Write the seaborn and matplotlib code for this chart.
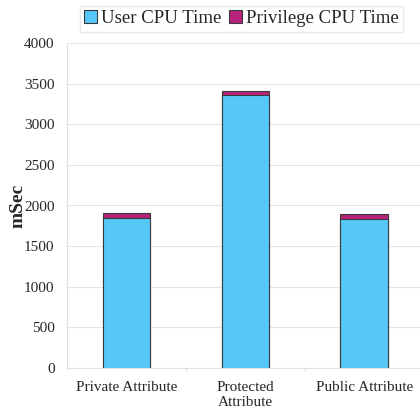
import seaborn as sns
import matplotlib.pyplot as plt
import matplotlib.patches as mpatches
import pandas as pd

categories = ['Private Attribute', 'Protected\nAttribute', 'Public Attribute']
user_cpu = [1840, 3360, 1835]
priv_cpu = [62, 52, 55]
series = ['User CPU Time', 'Privilege CPU Time']

sns.set_style('white')
plt.rcParams['font.family'] = ['Liberation Serif', 'DejaVu Serif']

d = pd.DataFrame({'cat': categories, 'user': user_cpu, 'priv': priv_cpu})
d['total'] = d['user'] + d['priv']

user_col = '#55c8f8'
priv_col = '#b5247a'

fig = plt.figure(figsize=(4.2, 4.19), dpi=100)
ax = fig.add_axes([67/420, 1-368/419, 1-67/420, (368-43)/419])

sns.barplot(data=d, x='cat', y='total', color=priv_col, width=0.4,
            edgecolor='#3a3a3a', linewidth=0.8, saturation=1, ax=ax)
sns.barplot(data=d, x='cat', y='user', color=user_col, width=0.4,
            edgecolor='#3a3a3a', linewidth=0.8, saturation=1, ax=ax)

ax.set_xlim(-0.5, 2.47)
ax.set_ylim(0, 4000)
ax.set_yticks(range(0, 4001, 500))
ax.yaxis.grid(True, color='#e4e4e4', linewidth=0.8)
ax.set_axisbelow(True)
for s in ['top', 'right']:
    ax.spines[s].set_visible(False)
ax.spines['left'].set_color('#e0e0e0')
ax.spines['bottom'].set_color('#e0e0e0')
ax.tick_params(axis='y', labelsize=11, length=0, pad=9)
ax.tick_params(axis='x', labelsize=11, length=0, pad=9)
ax.set_xlabel('')
ax.set_ylabel('mSec', fontsize=14, fontweight='bold')
ax.yaxis.set_label_coords(-0.115, 0.5)
for xb in [0.5, 1.5]:
    ax.plot([xb, xb], [0, -40], color='#e0e0e0', lw=0.8, clip_on=False)

handles = [mpatches.Patch(facecolor=user_col, edgecolor='#3a3a3a', lw=0.8),
           mpatches.Patch(facecolor=priv_col, edgecolor='#3a3a3a', lw=0.8)]
fig.legend(handles, series, loc='center', bbox_to_anchor=(0.575, 0.955), ncol=2,
           fontsize=13.5, handlelength=0.7, handleheight=0.7, handletextpad=0.2,
           columnspacing=0.4, frameon=True, fancybox=False, edgecolor='#e4e4e4',
           borderpad=0.25)

plt.savefig('out.png', dpi=100)
